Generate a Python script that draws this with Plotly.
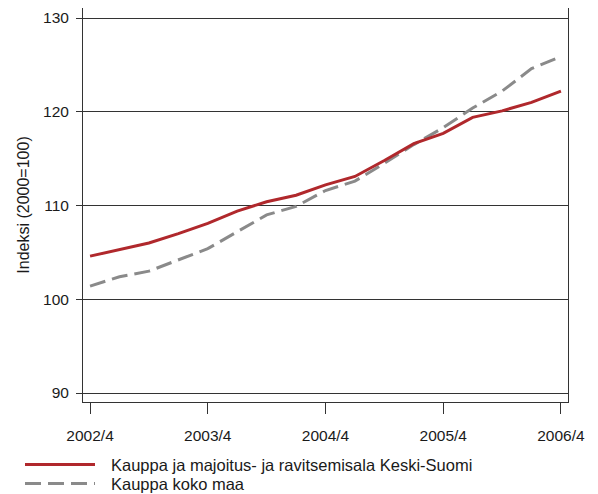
import plotly.graph_objects as go

# --- DATA ---
QUARTERS = ["2002/4", "2003/1", "2003/2", "2003/3", "2003/4", "2004/1", "2004/2", "2004/3",
            "2004/4", "2005/1", "2005/2", "2005/3", "2005/4", "2006/1", "2006/2", "2006/3", "2006/4"]
KESKI_SUOMI = [104.6, 105.3, 106.0, 107.0, 108.1, 109.4, 110.4, 111.1, 112.2,
               113.1, 114.8, 116.6, 117.7, 119.4, 120.1, 121.0, 122.2]
KOKO_MAA = [101.4, 102.4, 103.0, 104.2, 105.4, 107.2, 109.0, 109.9, 111.6,
            112.6, 114.5, 116.5, 118.3, 120.4, 122.2, 124.6, 125.9]
X_TICKS = ["2002/4", "2003/4", "2004/4", "2005/4", "2006/4"]
Y_TICKS = [90, 100, 110, 120, 130]
NAMES = ["Kauppa ja majoitus- ja ravitsemisala Keski-Suomi", "Kauppa koko maa"]

RED = "#b0282c"
GREY = "#8a8a8a"
FONT = "Liberation Sans, Arial, sans-serif"

fig = go.Figure()
fig.add_trace(go.Scatter(x=QUARTERS, y=KOKO_MAA, mode="lines", name=NAMES[1],
                         line=dict(color=GREY, width=3, dash="16px,7px")))
fig.add_trace(go.Scatter(x=QUARTERS, y=KESKI_SUOMI, mode="lines", name=NAMES[0],
                         line=dict(color=RED, width=3)))

# page has an 8px body margin, so the figure is a bit smaller and shifted
OFF = 8
W, H = 598 - OFF, 494 - OFF
L, R, T, B = 83 - OFF, 30, 8 - OFF, 92
pw, ph = W - L - R, H - T - B


# page pixel -> paper coords
def px(x): return (x - OFF - L) / pw
def py(y): return (H - B - (y - OFF)) / ph


# legend drawn by hand (long line samples like the original)
for i, (name, color, dash) in enumerate([(NAMES[0], RED, "solid"), (NAMES[1], GREY, "16px,7px")]):
    yy = py(464.5 + 19 * i)
    fig.add_shape(type="line", xref="paper", yref="paper", x0=px(25), x1=px(95), y0=yy, y1=yy,
                  line=dict(color=color, width=3, dash=dash))
    fig.add_annotation(xref="paper", yref="paper", x=px(109), y=yy, text=name, showarrow=False,
                       xanchor="left", yanchor="middle", font=dict(size=16.5, color="#1a1a1a", family=FONT))

fig.update_layout(
    width=W, height=H, margin=dict(l=L, r=R, t=T, b=B, pad=0),
    plot_bgcolor="white", paper_bgcolor="white", showlegend=False,
    font=dict(family=FONT, size=15, color="#1a1a1a"),
)
fig.update_xaxes(type="category", tickvals=X_TICKS, range=[-0.24, 16.24], showgrid=False,
                 ticks="outside", ticklen=11, tickcolor="#333", showline=True, linecolor="#333",
                 linewidth=1, mirror=True, tickfont=dict(size=15.5), ticklabelstandoff=8)
fig.update_yaxes(range=[89.04, 131.07], tickvals=Y_TICKS, showgrid=True, gridcolor="#333",
                 gridwidth=1, zeroline=False, ticks="outside", ticklen=6, tickcolor="#333",
                 showline=True, linecolor="#333", linewidth=1, mirror=True, ticklabelstandoff=4,
                 tickfont=dict(size=15.5), title=dict(text="Indeksi (2000=100)", font=dict(size=16), standoff=9))

fig.write_html("out.html")
